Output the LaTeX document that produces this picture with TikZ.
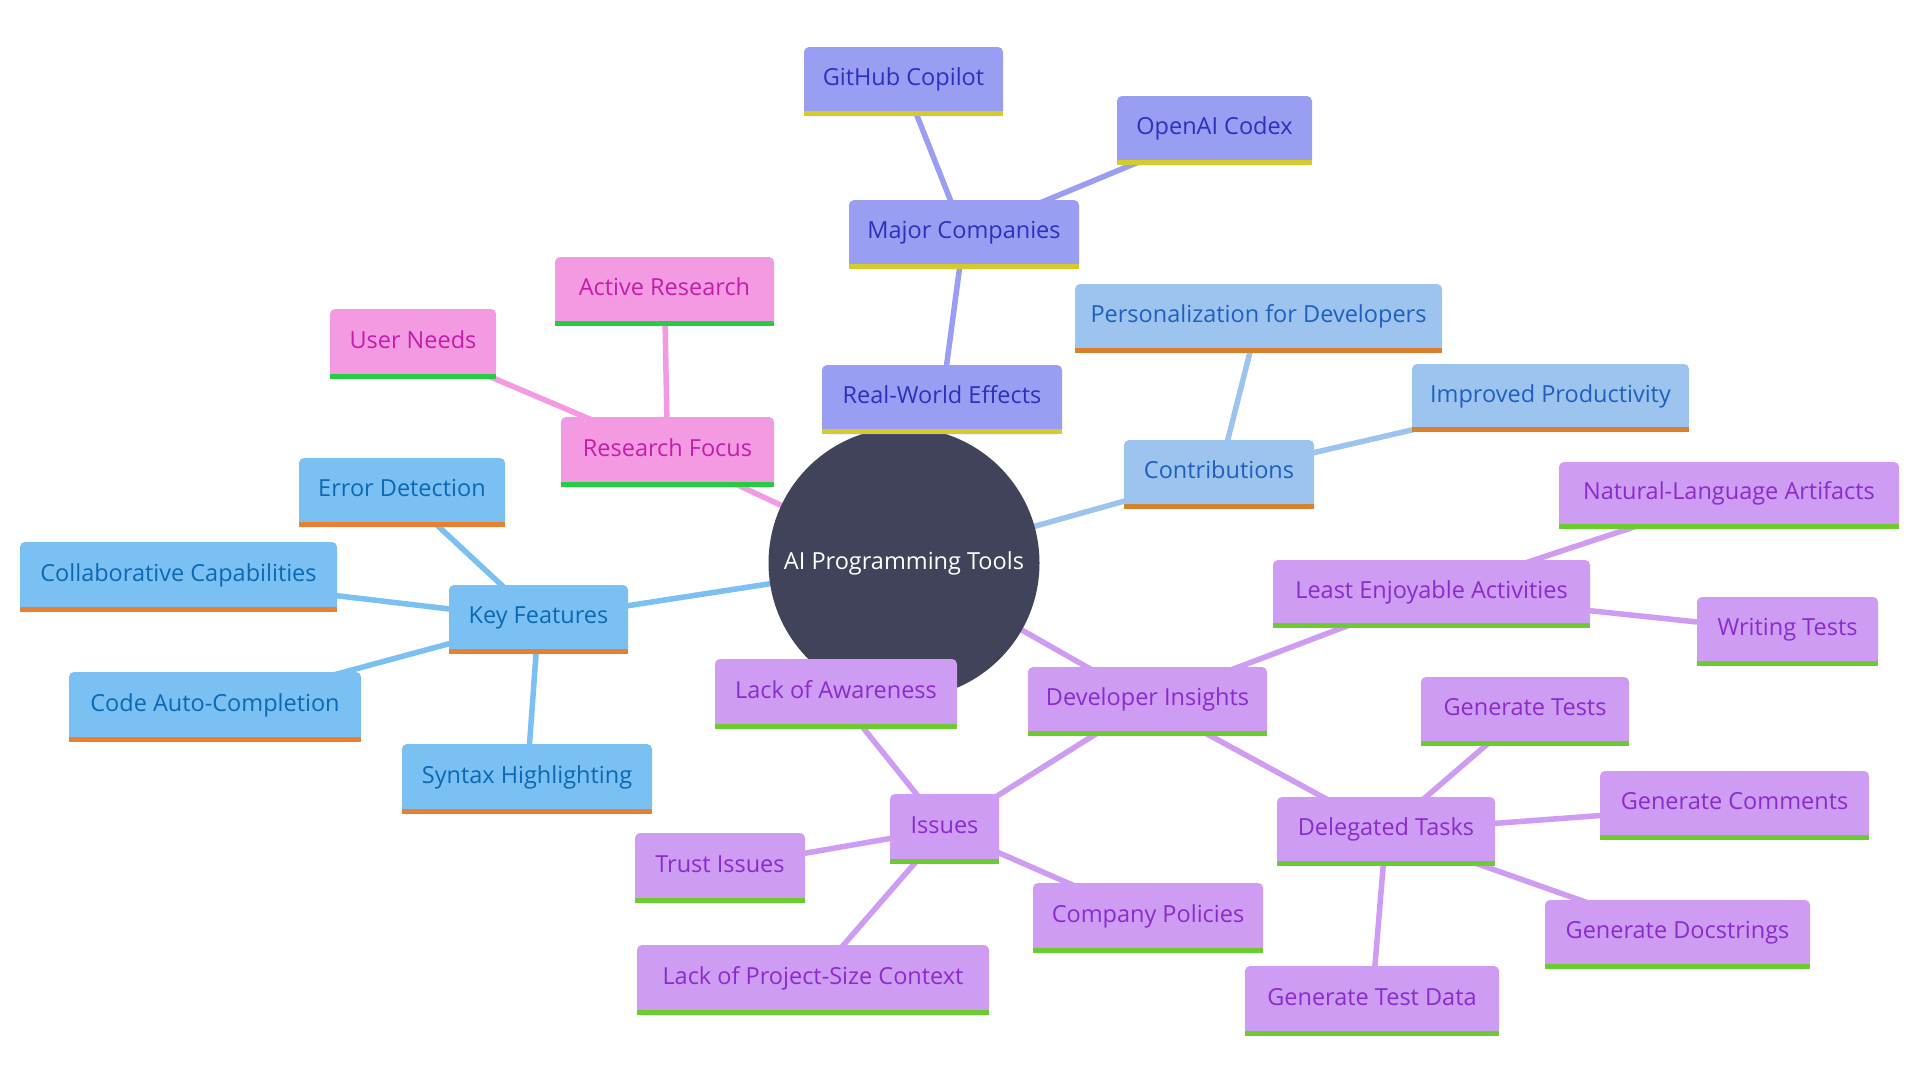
\documentclass[tikz,border=0pt]{standalone}
\usepackage{fontspec}
\setmainfont{Open Sans}
\pgfdeclarelayer{bg}
\pgfsetlayers{bg,main}
\definecolor{indfill}{HTML}{999EF2}
\definecolor{indtext}{HTML}{2C30BE}
\definecolor{indbar}{HTML}{D6CB2C}
\definecolor{conf}{HTML}{9CC4EE}
\definecolor{cont}{HTML}{1F5FBF}
\definecolor{conbar}{HTML}{D7812F}
\definecolor{kff}{HTML}{7BC0F2}
\definecolor{kft}{HTML}{0B68B3}
\definecolor{kfbar}{HTML}{E8812F}
\definecolor{pkf}{HTML}{F49AE3}
\definecolor{pkt}{HTML}{C41EA8}
\definecolor{pkbar}{HTML}{27CC45}
\definecolor{puf}{HTML}{CE9CF2}
\definecolor{put}{HTML}{8A2CCB}
\definecolor{pubar}{HTML}{6BCB2F}
\definecolor{ctr}{HTML}{404359}
\tikzset{
  box/.style n args={2}{draw=none, rounded corners=5pt, inner sep=0pt,
    minimum width=#1pt, minimum height=#2pt, text height=16pt, text depth=8pt,
    font=\fontsize{23.5}{28}\selectfont},
  ind/.style={box={#1}, fill=indfill, text=indtext},
  cbl/.style={box={#1}, fill=conf, text=cont},
  kfs/.style={box={#1}, fill=kff, text=kft},
  pks/.style={box={#1}, fill=pkf, text=pkt},
  pus/.style={box={#1}, fill=puf, text=put},
  edge/.style={line width=5.5pt},
}
\newcommand{\barof}[2]{\fill[#2] ([yshift=5pt]#1.south west) rectangle (#1.south east);}
\begin{document}
\begin{tikzpicture}[x=1pt,y=-1pt]
\useasboundingbox (0,0) rectangle (1920,1080);
\node[circle, fill=ctr, minimum size=271pt, inner sep=0pt, text=white, font=\fontsize{23.5}{28}\selectfont] (c) at (904,563) {AI Programming Tools};
% indigo
\node[ind={240}{69}] (rwe) at (942,399.5) {Real-World Effects};
\node[ind={230}{69}] (mc) at (964,234.5) {Major Companies};
\node[ind={199}{69}] (gh) at (903.5,81.5) {GitHub Copilot};
\node[ind={195}{69}] (oc) at (1214.5,130.5) {OpenAI Codex};
% contributions
\node[cbl={190}{69}] (con) at (1219,474.5) {Contributions};
\node[cbl={367}{69}] (pers) at (1258.5,318.5) {Personalization for Developers};
\node[cbl={277}{68}] (imp) at (1550.5,398) {Improved Productivity};
% key features
\node[kfs={179}{69}] (kf) at (538.5,619.5) {Key Features};
\node[kfs={206}{69}] (ed) at (402,492.5) {Error Detection};
\node[kfs={317}{70}] (cc) at (178.5,577) {Collaborative Capabilities};
\node[kfs={292}{70}] (cac) at (215,707) {Code Auto-Completion};
\node[kfs={250}{70}] (sh) at (527,779) {Syntax Highlighting};
% research
\node[pks={213}{70}] (rf) at (667.5,452) {Research Focus};
\node[pks={219}{69}] (ar) at (664.5,291.5) {Active Research};
\node[pks={166}{70}] (un) at (413,344) {User Needs};
% developer insights
\node[pus={239}{69}] (di) at (1147.5,701.5) {Developer Insights};
\node[pus={317}{68}] (lea) at (1431.5,594) {Least Enjoyable Activities};
\node[pus={340}{67}] (nla) at (1729,495.5) {Natural-Language Artifacts};
\node[pus={181}{69}] (wt) at (1787.5,631.5) {Writing Tests};
\node[pus={218}{69}] (dt) at (1386,831.5) {Delegated Tasks};
\node[pus={208}{69}] (gt) at (1525,711.5) {Generate Tests};
\node[pus={269}{69}] (gc) at (1734.5,805.5) {Generate Comments};
\node[pus={265}{69}] (gd) at (1677.5,934.5) {Generate Docstrings};
\node[pus={254}{70}] (gtd) at (1372,1001) {Generate Test Data};
\node[pus={109}{70}] (iss) at (944.5,829) {Issues};
\node[pus={242}{70}] (loa) at (836,694) {Lack of Awareness};
\node[pus={170}{70}] (ti) at (720,868) {Trust Issues};
\node[pus={230}{70}] (cp) at (1148,918) {Company Policies};
\node[pus={352}{70}] (lpc) at (813,980) {Lack of Project-Size Context};
% bars
\foreach \n in {rwe,mc,gh,oc} {\barof{\n}{indbar}}
\foreach \n in {con,pers,imp} {\barof{\n}{conbar}}
\foreach \n in {kf,ed,cc,cac,sh} {\barof{\n}{kfbar}}
\foreach \n in {rf,ar,un} {\barof{\n}{pkbar}}
\foreach \n in {di,lea,nla,wt,dt,gt,gc,gd,gtd,iss,loa,ti,cp,lpc} {\barof{\n}{pubar}}
% edges
\begin{pgfonlayer}{bg}
\fill[white] (0,0) rectangle (1920,1080);
\draw[edge, indfill] (c.center) -- (rwe.center) (rwe.center) -- (mc.center) (mc.center) -- (gh.center) (mc.center) -- (oc.center);
\draw[edge, conf] (c.center) -- (con.center) (con.center) -- (pers.center) (con.center) -- (imp.center);
\draw[edge, kff] (c.center) -- (kf.center) (kf.center) -- (ed.center) (kf.center) -- (cc.center) (kf.center) -- (cac.center) (kf.center) -- (sh.center);
\draw[edge, pkf] (c.center) -- (rf.center) (rf.center) -- (ar.center) (rf.center) -- (un.center);
\draw[edge, puf] (c.center) -- (di.center) (di.center) -- (lea.center) (lea.center) -- (nla.center) (lea.center) -- (wt.center)
  (di.center) -- (dt.center) (dt.center) -- (gt.center) (dt.center) -- (gc.center) (dt.center) -- (gd.center) (dt.center) -- (gtd.center)
  (di.center) -- (iss.center) (iss.center) -- (loa.center) (iss.center) -- (ti.center) (iss.center) -- (cp.center) (iss.center) -- (lpc.center);
\end{pgfonlayer}
\end{tikzpicture}
\end{document}
